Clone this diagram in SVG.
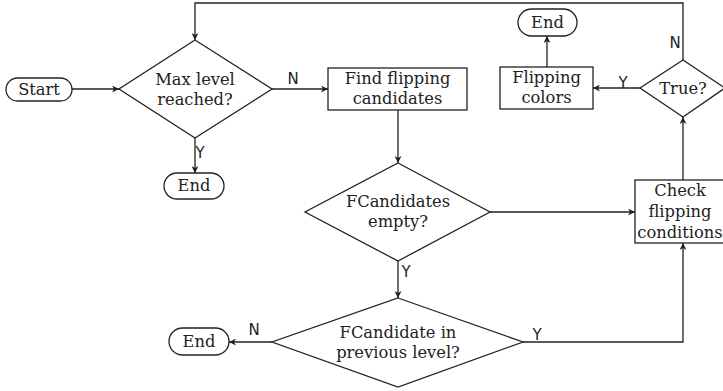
<svg xmlns="http://www.w3.org/2000/svg" width="723" height="391" viewBox="0 0 723 391">
<defs>
<style>
.n{fill:#fff;stroke:#222;stroke-width:1.3}
.t{font-family:"DejaVu Serif",serif;font-size:16.3px;fill:#222;text-anchor:middle}
.l{font-family:"DejaVu Sans",sans-serif;font-size:15px;fill:#222;text-anchor:middle}
.c{fill:none;stroke:#222;stroke-width:1.3}
</style>
<marker id="a" viewBox="0 0 10 10" refX="10" refY="5" markerWidth="7" markerHeight="7" markerUnits="userSpaceOnUse" orient="auto">
<path d="M0,0 L10,5 L0,10 L3,5 z" fill="#222"/>
</marker>
</defs>
<g id="connectors">
<path class="c" d="M72,89 H119" marker-end="url(#a)"/>
<path class="c" d="M272,89 H328" marker-end="url(#a)"/>
<path class="c" d="M195,138 V173" marker-end="url(#a)"/>
<path class="c" d="M398,110 V163" marker-end="url(#a)"/>
<path class="c" d="M490,212 H635" marker-end="url(#a)"/>
<path class="c" d="M398,261 V298" marker-end="url(#a)"/>
<path class="c" d="M272,342 H229" marker-end="url(#a)"/>
<path class="c" d="M523,342 H683 V243" marker-end="url(#a)"/>
<path class="c" d="M683,180 V117" marker-end="url(#a)"/>
<path class="c" d="M640,88 H593" marker-end="url(#a)"/>
<path class="c" d="M547,67 V36" marker-end="url(#a)"/>
<path class="c" d="M683,60 V3 H195 V40" marker-end="url(#a)"/>
<text class="l" x="293" y="84">N</text>
<text class="l" x="200" y="158">Y</text>
<text class="l" x="406" y="277">Y</text>
<text class="l" x="254" y="335">N</text>
<text class="l" x="537" y="340">Y</text>
<text class="l" x="623" y="88">Y</text>
<text class="l" x="675" y="48">N</text>
</g>
<g id="start"><rect class="n" x="6" y="78" width="66" height="23" rx="11.5"/><text class="t" x="39" y="95">Start</text></g>
<g id="maxlevel"><path class="n" d="M195,40 L272,89 L195,138 L119,89 z"/><text class="t" x="195" y="85">Max level</text><text class="t" x="195" y="105">reached?</text></g>
<g id="end1"><rect class="n" x="164" y="173" width="60" height="26" rx="13"/><text class="t" x="194" y="191">End</text></g>
<g id="find"><rect class="n" x="328" y="68" width="139" height="42"/><text class="t" x="397.5" y="84">Find flipping</text><text class="t" x="397.5" y="104">candidates</text></g>
<g id="fcempty"><path class="n" d="M398,163 L490,212 L398,261 L305,212 z"/><text class="t" x="398" y="207">FCandidates</text><text class="t" x="398" y="227">empty?</text></g>
<g id="fcprev"><path class="n" d="M398,298 L523,342 L398,387 L272,342 z"/><text class="t" x="398" y="338">FCandidate in</text><text class="t" x="398" y="358">previous level?</text></g>
<g id="end3"><rect class="n" x="169" y="328" width="60" height="27" rx="13.5"/><text class="t" x="199" y="347">End</text></g>
<g id="check"><rect class="n" x="635" y="180" width="90" height="63"/><text class="t" x="680" y="196">Check</text><text class="t" x="680" y="217">flipping</text><text class="t" x="680" y="238">conditions</text></g>
<g id="true"><path class="n" d="M683,60 L725,88 L683,117 L640,88 z"/><text class="t" x="683" y="94">True?</text></g>
<g id="flip"><rect class="n" x="500" y="67" width="93" height="42"/><text class="t" x="546.5" y="83">Flipping</text><text class="t" x="546.5" y="103">colors</text></g>
<g id="end2"><rect class="n" x="518" y="9" width="59" height="27" rx="13.5"/><text class="t" x="547.5" y="28">End</text></g>
</svg>
